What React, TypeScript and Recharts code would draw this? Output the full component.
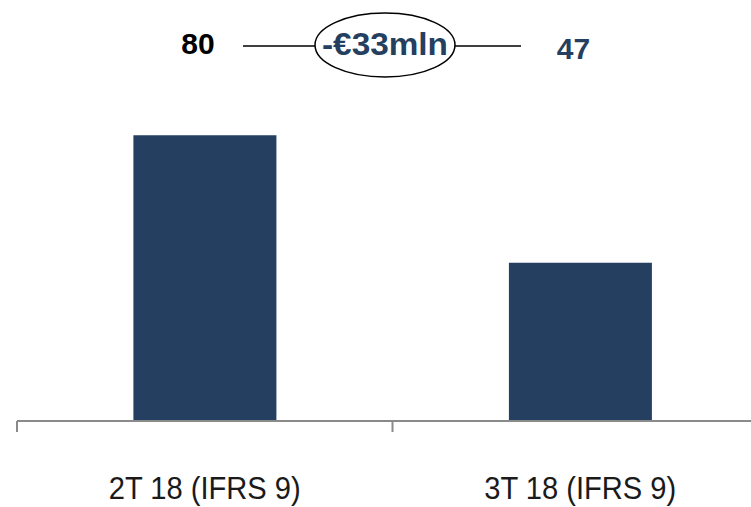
import React from 'react'
import { BarChart, Bar, XAxis, YAxis, LabelList } from 'recharts'

const categories = ['2T 18 (IFRS 9)', '3T 18 (IFRS 9)']
const values = [80, 47]
const labelColors = ['#000000', '#243F60']

const NAVY = '#243F60'

const data = categories.map((c, i) => ({ name: c, value: values[i], idx: i }))

// category label under each band
const CatTick = ({ x, y, payload }: any) => (
  <text
    x={x}
    y={y}
    dy={48}
    textAnchor="middle"
    fill="#1a1a1a"
    fontSize={32}
    textLength={192}
    lengthAdjust="spacingAndGlyphs"
    fontFamily="'Liberation Sans', Arial, sans-serif"
  >
    {payload.value}
  </text>
)

const NoTick = () => <g />

// value above each bar, at a fixed height in the header row
const ValueLabel = ({ x, width, index }: any) => {
  const cx = Number(x) + Number(width) / 2 - 7
  return (
    <text
      x={cx}
      y={index === 0 ? 54 : 59}
      textAnchor="middle"
      fill={labelColors[index]}
      fontSize={30}
      fontWeight="bold"
      fontFamily="'Liberation Sans', Arial, sans-serif"
    >
      {values[index]}
    </text>
  )
}

export default function App() {
  const delta = values[1] - values[0]
  return (
    <div style={{ position: 'absolute', left: 0, top: 0, width: 751, height: 507, overflow: 'hidden', background: '#fff' }}>
      <BarChart
        width={790}
        height={507}
        data={data}
        margin={{ top: 58, right: 22, left: 17, bottom: 0 }}
        barCategoryGap="31%"
      >
        <XAxis
          xAxisId="a"
          type="number"
          dataKey="idx"
          domain={[0, 2]}
          ticks={[0, 1, 2]}
          tick={NoTick}
          height={30}
          tickSize={11}
          axisLine={{ stroke: '#8a8a8a', strokeWidth: 2 }}
          tickLine={{ stroke: '#8a8a8a', strokeWidth: 2 }}
        />
        <XAxis
          xAxisId="b"
          dataKey="name"
          height={56}
          axisLine={false}
          tickLine={false}
          tickSize={0}
          tickMargin={0}
          tick={<CatTick />}
          interval={0}
        />
        <YAxis hide domain={[6, 100]} allowDataOverflow />
        <Bar xAxisId="b" dataKey="value" fill={NAVY} isAnimationActive={false}>
          <LabelList dataKey="value" content={<ValueLabel />} />
        </Bar>
      </BarChart>
      <svg width={751} height={507} style={{ position: 'absolute', left: 0, top: 0, pointerEvents: 'none' }}>
        <line x1={243} y1={46} x2={316} y2={46} stroke="#000" strokeWidth={1.5} />
        <line x1={454} y1={46} x2={521} y2={46} stroke="#000" strokeWidth={1.5} />
        <ellipse cx={385} cy={45} rx={70} ry={32} fill="#fff" stroke="#000" strokeWidth={1.5} />
        <text
          x={385}
          y={55}
          textAnchor="middle"
          fill={NAVY}
          fontSize={31}
          fontWeight="bold"
          textLength={126}
          lengthAdjust="spacingAndGlyphs"
          fontFamily="'Liberation Sans', Arial, sans-serif"
        >
          {`-€${Math.abs(delta)}mln`}
        </text>
      </svg>
    </div>
  )
}
